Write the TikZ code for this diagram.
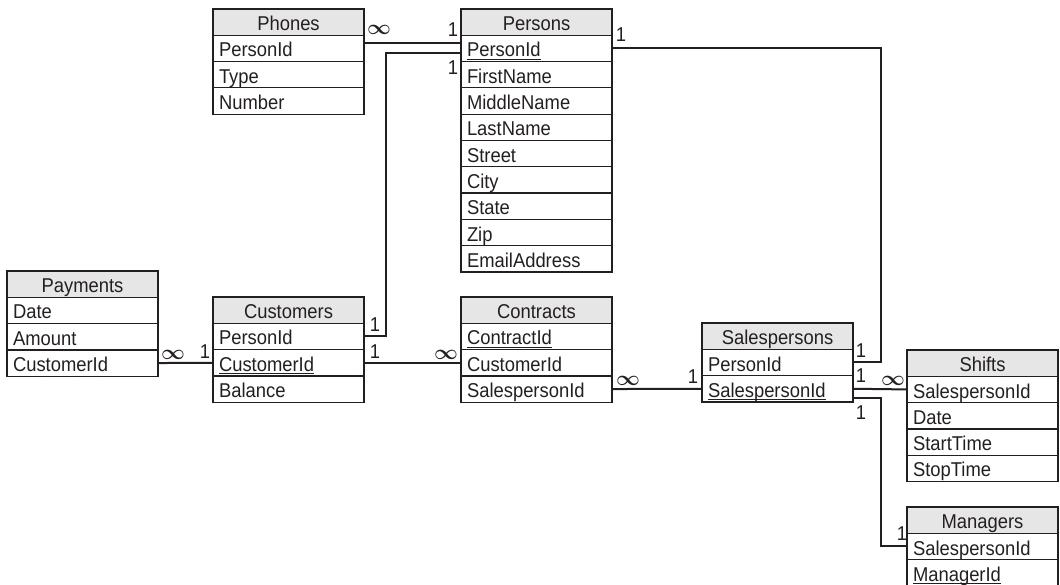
\documentclass[tikz,border=0pt]{standalone}
\usepackage{fontspec}
\setmainfont{Liberation Sans}[FakeStretch=0.92]
\usepackage{tikz}
\usetikzlibrary{positioning, calc}
\definecolor{inkgray}{HTML}{231F20}
\definecolor{headgray}{HTML}{E6E6E6}
\newcommand\keyname[1]{\setbox0=\hbox{#1}\rlap{\rule[-2.7pt]{\wd0}{1.1pt}}#1}
\newcommand\manymark{{\fontsize{20}{24}\selectfont\boldmath\(\infty\)}}
\tikzset{
  tblrow/.style={draw=inkgray, line width=1.2pt, text=inkgray, outer sep=0pt,
    inner xsep=6pt, inner ysep=0pt, text width=139pt, align=left,
    text height=21.7pt, text depth=4.6pt, minimum height=26.3pt},
  tblhead/.style={tblrow, fill=headgray, align=center, anchor=north west},
  link/.style={draw=inkgray, line width=2pt},
  card/.style={text=inkgray, inner sep=0pt}
}

\begin{document}
\begin{tikzpicture}[x=1pt, y=-1pt, font=\fontsize{20}{24}\selectfont]
  \useasboundingbox (0,0) rectangle (1060,585);

  % tables
  \node[tblhead] (phones-0) at (213,9) {Phones};
  \foreach \f [count=\i, remember=\i as \j (initially 0)] in {PersonId, Type, Number}
    \node[tblrow, below=0pt of phones-\j] (phones-\i) {\f};

  \node[tblhead] (persons-0) at (461,9) {Persons};
  \foreach \f [count=\i, remember=\i as \j (initially 0)] in {\keyname{PersonId}, FirstName,
      MiddleName, LastName, Street, City, State, Zip, EmailAddress}
    \node[tblrow, below=0pt of persons-\j] (persons-\i) {\f};

  \node[tblhead] (payments-0) at (7,271) {Payments};
  \foreach \f [count=\i, remember=\i as \j (initially 0)] in {Date, Amount, CustomerId}
    \node[tblrow, below=0pt of payments-\j] (payments-\i) {\f};

  \node[tblhead] (customers-0) at (213,297) {Customers};
  \foreach \f [count=\i, remember=\i as \j (initially 0)] in {PersonId, \keyname{CustomerId}, Balance}
    \node[tblrow, below=0pt of customers-\j] (customers-\i) {\f};

  \node[tblhead] (contracts-0) at (461,297) {Contracts};
  \foreach \f [count=\i, remember=\i as \j (initially 0)] in {\keyname{ContractId}, CustomerId, SalespersonId}
    \node[tblrow, below=0pt of contracts-\j] (contracts-\i) {\f};

  \node[tblhead] (salespersons-0) at (702,323) {Salespersons};
  \foreach \f [count=\i, remember=\i as \j (initially 0)] in {PersonId, \keyname{SalespersonId}}
    \node[tblrow, below=0pt of salespersons-\j] (salespersons-\i) {\f};

  \node[tblhead] (shifts-0) at (907,350) {Shifts};
  \foreach \f [count=\i, remember=\i as \j (initially 0)] in {SalespersonId, Date, StartTime, StopTime}
    \node[tblrow, below=0pt of shifts-\j] (shifts-\i) {\f};

  \node[tblhead] (managers-0) at (907,507) {Managers};
  \foreach \f [count=\i, remember=\i as \j (initially 0)] in {SalespersonId, \keyname{ManagerId}}
    \node[tblrow, below=0pt of managers-\j] (managers-\i) {\f};

  % relations
  \draw[link] ($(phones-1.east)+(0,-5)$) -- ($(persons-1.west)+(0,-5)$);
  \draw[link] ($(persons-1.west)+(0,5)$) -- ++(-75,0) |- (customers-1.east);
  \draw[link] (persons-1.east) -- ++(269,0) |- (salespersons-1.east);
  \draw[link] (payments-3.east) -- (customers-2.west);
  \draw[link] (customers-2.east) -- (contracts-2.west);
  \draw[link] (contracts-3.east) -- (salespersons-2.west);
  \draw[link] (salespersons-2.east) -- (shifts-1.west);
  \draw[link] ($(salespersons-2.east)+(0,9)$) -- ++(28,0) |- (managers-1.west);

  % cardinalities
  \node[card] (many-a) at (379,30) {\manymark};
  \node[card] (one-a) at (453,30) {1};
  \node[card] (one-b) at (453,68) {1};
  \node[card] (one-c) at (621,35) {1};
  \node[card] (many-b) at (173,355) {\manymark};
  \node[card] (one-d) at (205,352) {1};
  \node[card] (one-e) at (375,325) {1};
  \node[card] (one-f) at (375,352) {1};
  \node[card] (many-c) at (446,355) {\manymark};
  \node[card] (many-d) at (628,381) {\manymark};
  \node[card] (one-g) at (693,377) {1};
  \node[card] (one-h) at (861,351) {1};
  \node[card] (one-i) at (861,376) {1};
  \node[card] (many-e) at (893,381) {\manymark};
  \node[card] (one-j) at (861,413) {1};
  \node[card] (one-k) at (902,534) {1};
\end{tikzpicture}
\end{document}
